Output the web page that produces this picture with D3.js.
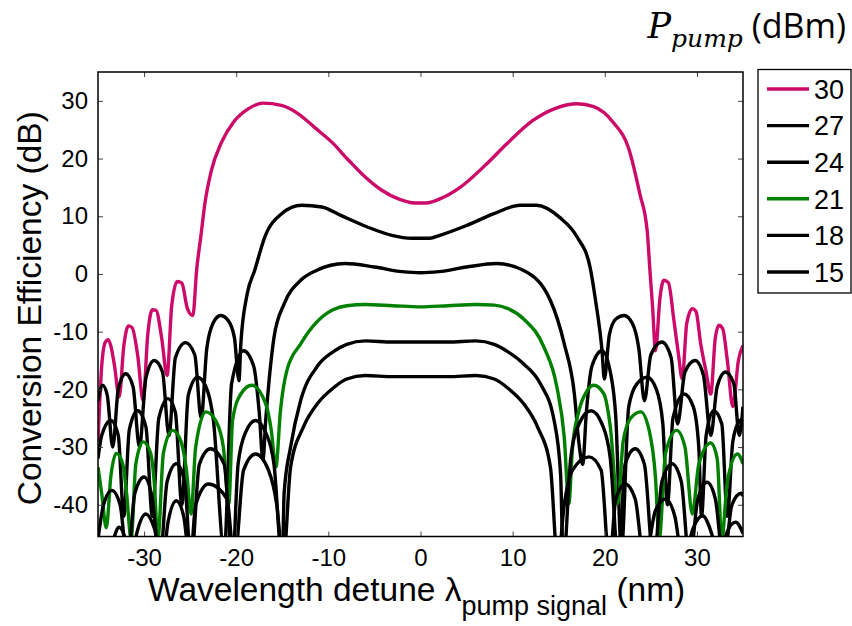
<!DOCTYPE html>
<html>
<head>
<meta charset="utf-8">
<script src="https://cdn.jsdelivr.net/npm/d3@7"></script>
<style>
  html, body { margin: 0; padding: 0; background: #fff; }
  svg { display: block; }
  text { font-family: "Liberation Sans", Arial, sans-serif; fill: #000; }
</style>
</head>
<body>
<svg id="chart" width="852" height="626"></svg>
<script>
// Pump power levels (dBm) shown in the legend
const powers = ["30", "27", "24", "21", "18", "15"];
const colors = ["#cc0a6a", "#000000", "#000000", "#008000", "#000000", "#000000"];

const xTicks = [-30, -20, -10, 0, 10, 20, 30];
const yTicks = [-40, -30, -20, -10, 0, 10, 20, 30];

// Conversion efficiency (dB) versus wavelength detune (nm), one pair of arrays per pump power
const detune30 = [-35, -34.6, -34.2, -33.9, -33.6, -33.2, -32.7, -32.2, -31.7, -31.3, -30.7, -30.1, -29.6, -29.1, -28.7, -28.1, -27.5, -27.0, -26.4, -25.9, -25.3, -24.7, -24.3, -23.8, -23.4, -22.7, -21.6, -20.3, -18.7, -17.1, -15.1, -13.3, -11.5, -9.6, -7.8, -6.0, -4.2, -2.4, -0.6, 0.6, 2.1, 4.3, 7.2, 9.4, 12.2, 14.8, 17.0, 18.8, 20.9, 22.6, 23.8, 24.6, 24.9, 25.2, 25.5, 26.0, 26.4, 26.9, 27.5, 28.0, 28.4, 28.9, 29.5, 29.9, 30.4, 31.0, 31.5, 32.0, 32.4, 32.8, 33.3, 33.9, 34.5, 35.0];
const ce30 = [-29, -16, -11.8, -11.4, -12.5, -16, -21.3, -12.5, -9.0, -9.3, -14, -22, -10.5, -6.2, -6.3, -11, -17.6, -5.5, -1.3, -1.6, -6.0, -7.2, 0.6, 7, 12.2, 17.9, 22.8, 26.3, 28.6, 29.6, 29.2, 27.8, 25.4, 22.8, 19.7, 16.8, 14.5, 13.0, 12.3, 12.3, 13.0, 15.0, 19.1, 22.6, 26.6, 28.8, 29.5, 29.0, 26.3, 21.7, 13.9, 7.5, 0.6, -6, -13.3, -4, -1.1, -1.5, -8, -14, -18.2, -8.5, -6.0, -6.5, -12, -17, -20.8, -11, -8.9, -9.5, -15, -23, -15, -12.4];

const detune27 = [-35, -34.5, -34.0, -33.4, -32.8, -32.0, -31.2, -30.5, -29.8, -28.9, -28.0, -27.3, -26.6, -25.5, -24.5, -23.8, -23.2, -22.5, -21.7, -20.9, -20.2, -19.7, -19.5, -18.8, -18.0, -16.9, -15.1, -12.9, -10.7, -8.6, -5.7, -3.1, -1.0, 1.0, 2.1, 5.0, 7.9, 10.8, 12.6, 15.1, 17.0, 18.4, 19.0, 19.7, 19.95, 20.5, 21.2, 22.1, 23.0, 23.7, 24.3, 25.0, 26.2, 27.2, 27.9, 28.7, 29.8, 30.7, 31.5, 32.2, 33.1, 34.0, 34.6, 35.0];
const ce27 = [-22, -19.3, -21, -30, -20, -17.3, -19.5, -30, -18, -15.0, -17, -28, -14.5, -11.9, -14, -25, -13, -8.5, -7.2, -8, -11, -18.5, -12.1, -3.4, 0.6, 6.4, 10.4, 11.9, 11.6, 10.1, 8.1, 6.7, 6.2, 6.2, 6.7, 8.4, 10.4, 11.9, 11.9, 9.8, 6.4, 1.2, -4.6, -13.3, -18.2, -10.5, -7.8, -7.2, -8.6, -13, -22, -14, -11.8, -14.5, -26, -17, -15.0, -17.5, -28, -19.5, -17.0, -19, -28, -23];

const detune24 = [-35, -34.6, -33.6, -32.8, -32.2, -31.6, -30.7, -29.8, -29.1, -28.4, -27.4, -26.6, -25.9, -25.2, -24.2, -23.3, -22.5, -21.3, -20.5, -19.2, -18.1, -17.5, -17.1, -16.8, -16.4, -15.9, -14.8, -13.0, -11.3, -8.2, -5, -2, 0, 2, 5, 8.3, 11.2, 14.1, 15.6, 16.7, 17.2, 17.6, 18.0, 18.6, 19.7, 20.6, 21.2, 21.8, 22.6, 23.5, 24.6, 25.6, 26.3, 26.8, 27.4, 28.6, 29.6, 30.2, 30.5, 31.0, 31.8, 32.7, 33.3, 33.9, 34.6, 35.0];
const ce24 = [-32, -28, -25.4, -28, -42, -27, -23.7, -26.5, -42, -25, -21.6, -24, -40, -21, -17.9, -19.5, -25, -48, -19, -13.3, -16, -24, -32.3, -25.4, -17.9, -11, -5.2, -1.1, 0.6, 1.8, 1.2, 0.4, 0.2, 0.4, 1.2, 1.8, 0.6, -4.6, -12.1, -20.8, -29.4, -33, -24, -16, -13.3, -17, -25, -48, -23, -19, -17.9, -20, -26, -40, -25, -20.8, -23, -30, -42, -28, -23.7, -26, -42, -29, -25.5, -25.1];

const detune21 = [-35, -34.6, -34.1, -33.6, -33.0, -32.3, -31.9, -31.4, -30.9, -30.1, -29.3, -28.9, -28.5, -27.9, -26.9, -26.0, -25.4, -24.9, -24.4, -23.3, -22.2, -21.4, -20.8, -20.4, -19.5, -18.3, -16.8, -16.2, -15.7, -15.2, -14.5, -13.0, -11.3, -9.5, -8, -6, -3, 0, 3, 6, 8, 9.5, 11.2, 13.4, 14.8, 15.6, 16.1, 16.5, 17.2, 18.1, 18.8, 19.9, 20.6, 21.4, 22.0, 22.8, 23.9, 24.8, 25.5, 25.9, 26.6, 27.8, 28.7, 29.5, 30.2, 31.5, 32.2, 32.7, 33.3, 34.4, 35.0];
const ce21 = [-33.5, -38, -44, -35, -31.1, -33, -38, -46, -33, -29.1, -31, -36, -46, -31, -27.1, -29, -34, -41.6, -30, -23.9, -25.5, -30, -39.8, -25.4, -20.8, -19.3, -22.5, -27, -33.5, -23.7, -16.7, -12.1, -8.4, -6.2, -5.5, -5.3, -5.5, -5.7, -5.5, -5.3, -5.4, -6.0, -7.8, -12.7, -19.6, -28.3, -39.8, -30, -23.7, -20.2, -19.3, -20.8, -26.5, -39.8, -29, -25, -23.9, -27, -35.2, -46, -31, -27.1, -30, -41.6, -33, -29.3, -32, -46, -36, -31.2, -32.9];

const detune18 = [-35, -34.4, -33.5, -32.6, -31.8, -31.0, -30.0, -29.1, -28.3, -27.5, -26.5, -25.6, -24.9, -24.0, -22.8, -21.3, -20.4, -19.8, -19.0, -17.9, -16.8, -15.9, -15.0, -14.8, -14.1, -13.0, -11.2, -9.5, -8, -6, -3, 0, 3, 6, 8, 9.5, 11.2, 13.0, 14.5, 15.2, 15.5, 16.3, 17.2, 18.5, 19.7, 20.6, 21.5, 22.2, 23.3, 24.3, 25.3, 26.2, 27.3, 28.3, 29.2, 30.1, 31.1, 32.0, 32.9, 33.8, 34.8, 35.0];
const ce18 = [-46, -40, -37.5, -40, -50, -38, -35.2, -39, -50, -36, -32.9, -36, -50, -33, -30.3, -33, -50, -33, -27.5, -25.4, -27.5, -33, -50, -38, -30, -21.9, -16.0, -13.5, -12.2, -11.6, -11.8, -11.8, -11.8, -11.6, -12.2, -13.5, -15.6, -19.0, -25.4, -34.6, -50, -32, -26, -23.7, -26, -32, -50, -33, -30.3, -33, -50, -36, -32.9, -36, -50, -39, -36.1, -39, -50, -40, -38, -38.5];

const detune15 = [-35, -34.0, -33.5, -32.7, -32.0, -31.4, -30.8, -29.8, -28.9, -28.0, -27.4, -26.5, -25.7, -25.0, -24.4, -23.0, -21.0, -20.2, -19.2, -17.9, -16.5, -15.6, -14.9, -14.1, -12.7, -11.2, -9.5, -8, -6, -3, 0, 3, 6, 8, 9.5, 11.2, 12.7, 14.1, 14.9, 15.6, 16.5, 18.3, 19.6, 20.5, 21.2, 22.2, 23.3, 24.3, 25.5, 26.6, 27.6, 28.5, 29.6, 30.6, 31.6, 32.4, 33.2, 34.2, 35.0];
const ce15 = [-46, -50, -47, -43.9, -46, -50, -45, -41.6, -44, -50, -43, -39.3, -42, -50, -40, -36.4, -39, -50, -34, -31.2, -34, -40, -50, -33.5, -26.5, -22.5, -19.8, -18.2, -17.6, -17.8, -17.8, -17.8, -17.6, -18.2, -19.8, -22.5, -26.5, -33.5, -50, -40, -34, -31.7, -34, -50, -39, -36.4, -39, -50, -41, -39.0, -42, -50, -44, -41.9, -45, -50, -45, -43.0, -45];

const series = [
  { name: powers[0], color: colors[0], x: detune30, y: ce30 },
  { name: powers[1], color: colors[1], x: detune27, y: ce27 },
  { name: powers[2], color: colors[2], x: detune24, y: ce24 },
  { name: powers[3], color: colors[3], x: detune21, y: ce21 },
  { name: powers[4], color: colors[4], x: detune18, y: ce18 },
  { name: powers[5], color: colors[5], x: detune15, y: ce15 }
];

const svg = d3.select("#chart");
const plot = { left: 98, right: 743, top: 72, bottom: 536.5 };
const sans = "'Liberation Sans', Arial, sans-serif";

const x = d3.scaleLinear().domain([-35, 35]).range([plot.left, plot.right]);
const y = d3.scaleLinear().domain([-45.5, 35]).range([plot.bottom, plot.top]);

svg.append("defs").append("clipPath").attr("id", "plotClip")
  .append("rect")
  .attr("x", plot.left).attr("y", plot.top)
  .attr("width", plot.right - plot.left).attr("height", plot.bottom - plot.top);

// Curves
const line = d3.line()
  .x(d => x(d[0]))
  .y(d => y(d[1]))
  .curve(d3.curveMonotoneX);

const curves = svg.append("g").attr("clip-path", "url(#plotClip)");
series.forEach(s => {
  curves.append("path")
    .datum(d3.zip(s.x, s.y))
    .attr("fill", "none")
    .attr("stroke", s.color)
    .attr("stroke-width", 3.4)
    .attr("stroke-linejoin", "round")
    .attr("d", line);
});

// Axes with inward ticks on all four sides; plain hyphen for negative labels
const tickLen = 5;
const fmt = d => String(d);
const axisStyle = g => {
  g.select(".domain").remove();
  g.selectAll(".tick line").attr("stroke", "#444").attr("stroke-width", 1);
};

svg.append("g")
  .attr("transform", `translate(0,${plot.bottom})`)
  .call(d3.axisBottom(x).tickValues(xTicks).tickFormat(fmt).tickSizeInner(-tickLen).tickSizeOuter(0).tickPadding(12))
  .call(axisStyle)
  .call(g => g.selectAll(".tick text")
    .attr("font-size", 24).attr("font-family", sans)
    .attr("fill", "#000").attr("dy", "0.71em"));

svg.append("g")
  .attr("transform", `translate(0,${plot.top})`)
  .call(d3.axisTop(x).tickValues(xTicks).tickSizeInner(-tickLen).tickSizeOuter(0).tickFormat(""))
  .call(axisStyle);

svg.append("g")
  .attr("transform", `translate(${plot.left},0)`)
  .call(d3.axisLeft(y).tickValues(yTicks).tickFormat(fmt).tickSizeInner(-tickLen).tickSizeOuter(0).tickPadding(10))
  .call(axisStyle)
  .call(g => g.selectAll(".tick text")
    .attr("font-size", 24).attr("font-family", sans)
    .attr("fill", "#000"));

svg.append("g")
  .attr("transform", `translate(${plot.right},0)`)
  .call(d3.axisRight(y).tickValues(yTicks).tickSizeInner(-tickLen).tickSizeOuter(0).tickFormat(""))
  .call(axisStyle);

// Frame
svg.append("rect")
  .attr("x", plot.left).attr("y", plot.top)
  .attr("width", plot.right - plot.left).attr("height", plot.bottom - plot.top)
  .attr("fill", "none").attr("stroke", "#000").attr("stroke-width", 1.5);

// Axis titles
svg.append("text")
  .attr("transform", `translate(41,${(plot.top + plot.bottom) / 2 + 4}) rotate(-90)`)
  .attr("text-anchor", "middle")
  .attr("font-size", 33.5)
  .text("Conversion Efficiency (dB)");

const xTitle = svg.append("text")
  .attr("x", 148).attr("y", 601)
  .attr("font-size", 33.5);
xTitle.append("tspan").text("Wavelength detune λ");
xTitle.append("tspan").attr("font-size", 27).attr("dy", 14).text("pump signal");
xTitle.append("tspan").attr("dy", -14).text(" (nm)");

// Legend title
const serif = "'DejaVu Serif', 'Liberation Serif', serif";
const lt = svg.append("text")
  .attr("x", 846).attr("y", 38)
  .attr("text-anchor", "end")
  .attr("font-size", 34);
lt.append("tspan").attr("font-family", serif).attr("font-style", "italic").attr("font-size", 35).text("P");
lt.append("tspan").attr("font-family", serif).attr("font-style", "italic")
  .attr("font-size", 25).attr("dy", 9).text("pump");
lt.append("tspan").attr("dy", -9).attr("font-family", "'Open Sans', sans-serif").text(" (dBm)");

// Legend
const legend = svg.append("g");
legend.append("rect")
  .attr("x", 758).attr("y", 69.5).attr("width", 93).attr("height", 223.5)
  .attr("fill", "#fff").attr("stroke", "#000").attr("stroke-width", 1.3);

const ly = d3.scalePoint().domain(powers).range([89, 272]);
series.forEach(s => {
  legend.append("line")
    .attr("x1", 767).attr("x2", 809)
    .attr("y1", ly(s.name)).attr("y2", ly(s.name))
    .attr("stroke", s.color).attr("stroke-width", 3.4);
  legend.append("text")
    .attr("x", 814).attr("y", ly(s.name))
    .attr("dy", "0.36em")
    .attr("font-size", 27)
    .attr("font-family", sans)
    .text(s.name);
});
</script>
</body>
</html>
